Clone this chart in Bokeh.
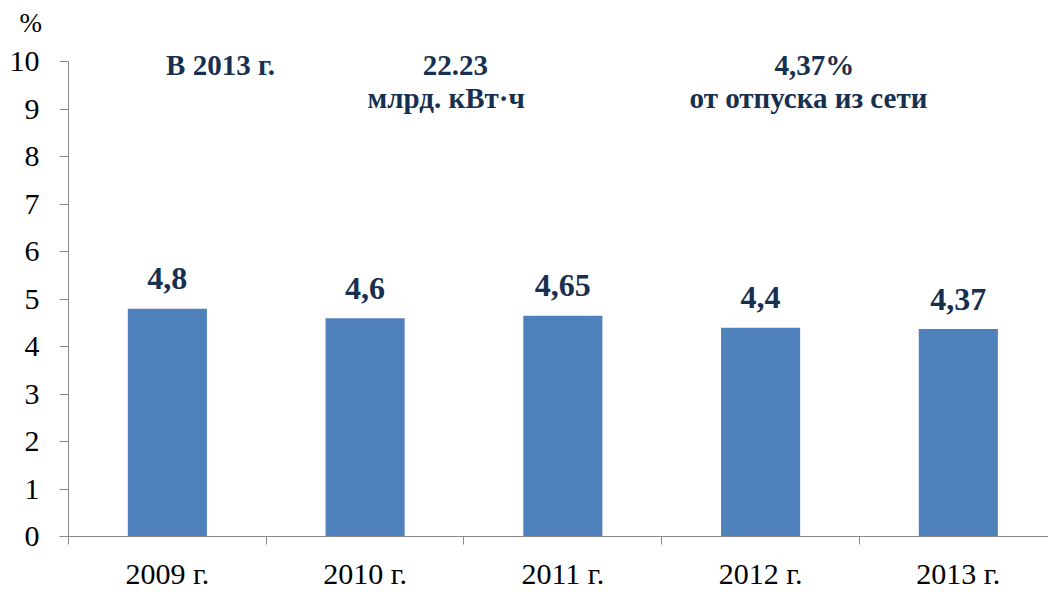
import numpy as np
from bokeh.plotting import figure
from bokeh.models import ColumnDataSource, Range1d, FixedTicker, Label
from bokeh.core.properties import value
from bokeh.embed import file_html
from bokeh.resources import INLINE

years = ["2009 г.", "2010 г.", "2011 г.", "2012 г.", "2013 г."]
losses = [4.8, 4.6, 4.65, 4.4, 4.37]
value_labels = ["4,8", "4,6", "4,65", "4,4", "4,37"]
y_ticks = [0, 1, 2, 3, 4, 5, 6, 7, 8, 9, 10]

FONT = "Liberation Serif"
NAVY = "#17304F"
BAR = "#4F81BD"
AXIS = "#898989"

xs = list(range(len(years)))
src = ColumnDataSource(dict(x=xs, top=losses, lab=value_labels))

p = figure(width=1048, height=592, output_backend="svg", toolbar_location=None,
           x_range=Range1d(-0.5, 4.456), y_range=Range1d(0, 10.449),
           min_border_left=68, min_border_right=0, min_border_top=40, min_border_bottom=52)
p.outline_line_color = None
p.grid.visible = False
p.background_fill_color = "white"
p.border_fill_color = "white"

p.title.text = "%"
p.title.align = "left"
p.title.offset = -49
p.title.standoff = 6
p.title.text_font = FONT
p.title.text_font_size = "27px"
p.title.text_font_style = "normal"
p.title.text_color = "black"

p.vbar(x="x", top="top", width=0.4, bottom=0, source=src, fill_color=BAR, line_color=None)

p.text(x="x", y="top", text="lab", source=src, text_align="center", text_baseline="alphabetic",
       y_offset=-30, text_font=value(FONT), text_font_style="bold", text_font_size="32px",
       text_color=NAVY)

# x axis
xa = p.xaxis[0]
xa.ticker = FixedTicker(ticks=xs, minor_ticks=[i - 0.5 for i in range(len(years) + 1)])
xa.major_label_overrides = {i: y for i, y in enumerate(years)}
xa.major_tick_out = 0
xa.major_tick_in = 0
xa.minor_tick_out = 8
xa.minor_tick_in = 0
xa.minor_tick_line_color = AXIS
xa.axis_line_color = AXIS
xa.major_label_text_font = FONT
xa.major_label_text_font_size = "30px"
xa.major_label_text_color = "black"
xa.major_label_standoff = 12

ya = p.yaxis[0]
ya.ticker = FixedTicker(ticks=y_ticks, minor_ticks=[])
ya.bounds = (0, 10)
ya.major_tick_out = 9
ya.major_tick_in = 0
ya.major_tick_line_color = AXIS
ya.axis_line_color = AXIS
ya.major_label_text_font = FONT
ya.major_label_text_font_size = "30px"
ya.major_label_text_color = "black"
ya.major_label_standoff = 20

def add_label(x, y, txt, size, bold=True, color=NAVY):
    p.add_layout(Label(x=x, y=y, text=txt, text_align="center", text_baseline="alphabetic",
                       text_font=FONT, text_font_size=size,
                       text_font_style="bold" if bold else "normal", text_color=color))

add_label(0.269, 9.93, "В 2013 г.", "29px")
add_label(1.457, 9.93, "22.23", "29px")
add_label(1.41, 9.24, "млрд. кВт·ч", "29px")
add_label(3.272, 9.93, "4,37%", "29px")
add_label(3.242, 9.24, "от отпуска из сети", "29px")

open("out.html", "w").write(file_html(p, INLINE))
